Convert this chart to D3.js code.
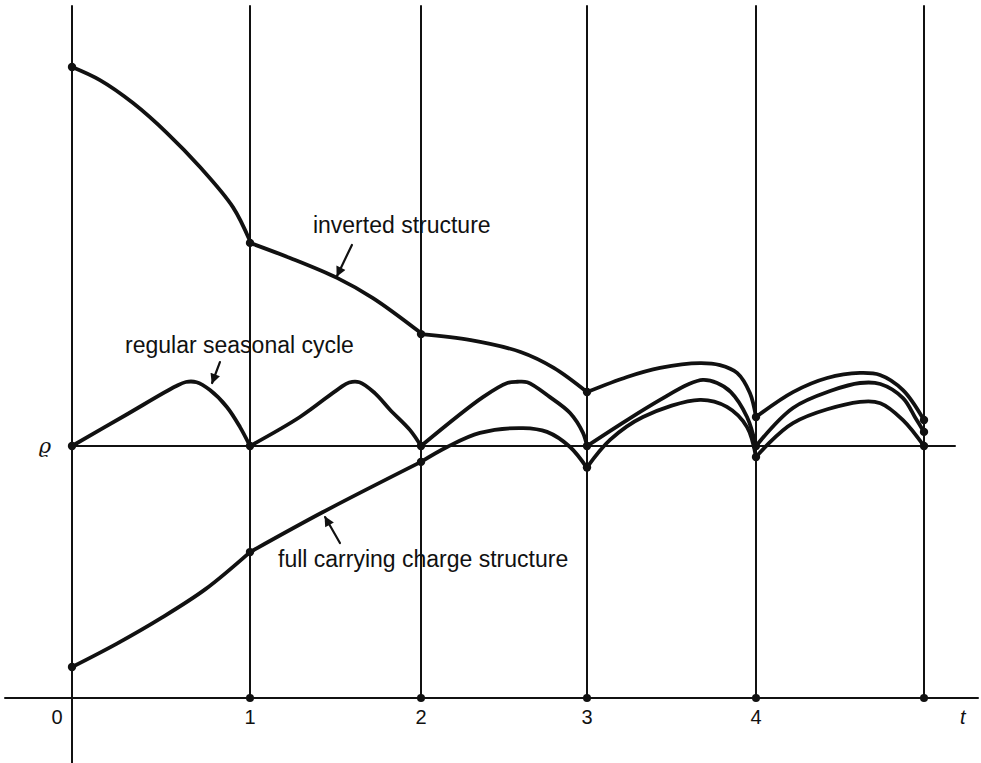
<!DOCTYPE html>
<html>
<head>
<meta charset="utf-8">
<script src="https://cdn.jsdelivr.net/npm/d3@7"></script>
<style>
  body { margin: 0; background: #fff; }
  svg { display: block; font-family: "Liberation Sans", Arial, sans-serif; }
</style>
</head>
<body>
<div id="chart"></div>
<script>
// years on the t axis, and the labels printed under them
const years = [0, 1, 2, 3, 4, 5];
const tickLabels = ["0", "1", "2", "3", "4"];

// spread (t, value), one array per year segment
const inverted = [
  [[0, 150.4], [0.157, 145.2], [0.343, 136.1], [0.534, 124.2], [0.719, 110.7], [0.904, 94.8], [1, 81.3]],
  [[1, 80.6], [1.234, 74.6], [1.509, 66.7], [1.719, 58.7], [2, 44.8]],
  [[2, 44.4], [2.3, 42], [2.6, 37.3], [2.8, 31], [3, 21.4]],
  [[3, 21.4], [3.237, 27.4], [3.432, 31], [3.669, 32.9], [3.787, 32.1], [3.888, 29], [3.964, 21], [4, 11.5]],
  [[4, 11.5], [4.22, 21.4], [4.423, 27], [4.619, 29], [4.738, 28.2], [4.875, 22.2], [5, 10.3]],
];

const seasonal = [
  [[0, 0], [0.3, 12.2], [0.58, 23.6], [0.64, 25.4], [0.7, 25.3], [0.775, 22.2], [0.87, 15.5], [0.944, 7.5], [1, 0]],
  [[1, 0], [1.292, 11.5], [1.52, 22.8], [1.58, 25.2], [1.64, 25.3], [1.73, 21], [1.82, 14.3], [1.936, 6.3], [2, 0]],
  [[2, 0], [2.373, 19.4], [2.52, 25], [2.58, 25.5], [2.64, 25.3], [2.777, 19.4], [2.898, 13.1], [2.976, 5.2], [3, 0]],
  [[3, 0], [3.237, 10.3], [3.432, 18.3], [3.6, 24.5], [3.686, 26.2], [3.77, 25], [3.85, 21.5], [3.947, 11.5], [4, 0]],
  [[4, 0], [4.22, 15.1], [4.45, 22], [4.619, 25], [4.74, 24.6], [4.875, 19], [4.95, 11], [5, 5.6]],
];

const fullCarry = [
  [[0, -87.7], [0.25, -78.5], [0.5, -68.3], [0.75, -56.8], [1, -42.1]],
  [[1, -42.1], [1.427, -26.2], [2, -6.3]],
  [[2, -6.3], [2.157, -0.4], [2.355, 5.2], [2.614, 7.1], [2.759, 5.6], [2.898, -0.4], [3, -8.7]],
  [[3, -8.5], [3.136, 2.4], [3.331, 11.5], [3.669, 18.3], [3.828, 15.5], [3.947, 7.5], [4, -4.4]],
  [[4, -4.4], [4.22, 9.1], [4.619, 17.5], [4.74, 17], [4.875, 10.3], [5, 0]],
];

// label text, where it starts, and the arrow (from, tip) in data units
const notes = [
  { text: "inverted structure", at: [1.368, 84.5], from: [1.596, 79.8], tip: [1.509, 67.5] },
  { text: "regular seasonal cycle", at: [0.298, 36.9], from: [0.831, 33.3], tip: [0.787, 25] },
  { text: "full carrying charge structure", at: [1.164, -48], from: [1.526, -38.5], tip: [1.439, -28.2] },
];

const width = 981;
const height = 763;

// the drawn year lines are not quite evenly spaced
const x = d3.scaleLinear().domain(years).range([72, 250, 421, 587, 756, 924]);
const y = d3.scaleLinear().domain([-100, 0]).range([698, 446]);

const svg = d3.select("#chart").append("svg")
  .attr("width", width)
  .attr("height", height)
  .attr("stroke-linecap", "round")
  .attr("stroke-linejoin", "round");

svg.append("defs").append("marker")
  .attr("id", "head")
  .attr("viewBox", "0 0 10 10")
  .attr("refX", 9)
  .attr("refY", 5)
  .attr("markerUnits", "userSpaceOnUse")
  .attr("markerWidth", 14)
  .attr("markerHeight", 10)
  .attr("orient", "auto")
  .append("path")
  .attr("d", "M0,0L10,5L0,10z")
  .attr("fill", "#111");

// year lines
svg.append("g")
  .selectAll("line")
  .data(years)
  .join("line")
  .attr("x1", (d) => x(d))
  .attr("x2", (d) => x(d))
  .attr("y1", 6)
  .attr("y2", (d) => (d === 0 ? height : y(-100)))
  .attr("stroke", "#111")
  .attr("stroke-width", 2);

// bottom axis and the zero (rho) line
svg.append("line")
  .attr("x1", 5).attr("x2", 978)
  .attr("y1", y(-100)).attr("y2", y(-100))
  .attr("stroke", "#111").attr("stroke-width", 2);

svg.append("line")
  .attr("x1", x(0)).attr("x2", 955)
  .attr("y1", y(0)).attr("y2", y(0))
  .attr("stroke", "#111").attr("stroke-width", 2);

// dots where the year lines meet the axis
svg.append("g")
  .selectAll("circle")
  .data(years.slice(1))
  .join("circle")
  .attr("cx", (d) => x(d))
  .attr("cy", y(-100))
  .attr("r", 4)
  .attr("fill", "#111");

// tick labels
svg.append("g")
  .attr("font-size", 20)
  .attr("text-anchor", "middle")
  .attr("fill", "#111")
  .selectAll("text")
  .data(tickLabels)
  .join("text")
  .attr("x", (d, i) => (i === 0 ? x(0) - 15 : x(i)))
  .attr("y", y(-100) + 26)
  .text((d) => d);

svg.append("text")
  .attr("x", width - 21)
  .attr("y", y(-100) + 26)
  .attr("font-size", 20)
  .attr("font-style", "italic")
  .attr("fill", "#111")
  .text("t");

svg.append("text")
  .attr("x", x(0) - 27)
  .attr("y", y(0) + 7)
  .attr("font-size", 21)
  .attr("font-style", "italic")
  .attr("font-family", "'DejaVu Serif', serif")
  .attr("text-anchor", "middle")
  .attr("fill", "#111")
  .text("ϱ");

// the three spread curves, one path per year
const line = d3.line()
  .x((d) => x(d[0]))
  .y((d) => y(d[1]))
  .curve(d3.curveCatmullRom.alpha(0.5));

[inverted, seasonal, fullCarry].forEach((series) => {
  const g = svg.append("g");
  g.selectAll("path")
    .data(series)
    .join("path")
    .attr("fill", "none")
    .attr("stroke", "#111")
    .attr("stroke-width", 3.8)
    .attr("d", line);

  const ends = series.map((s) => s[0]).concat([series[series.length - 1].slice(-1)[0]]);
  g.selectAll("circle")
    .data(ends)
    .join("circle")
    .attr("cx", (d) => x(d[0]))
    .attr("cy", (d) => y(d[1]))
    .attr("r", 4.2)
    .attr("fill", "#111");
});

// labels and arrows
const noteG = svg.append("g").attr("fill", "#111").attr("font-size", 23);
noteG.selectAll("text")
  .data(notes)
  .join("text")
  .attr("x", (d) => x(d.at[0]))
  .attr("y", (d) => y(d.at[1]))
  .text((d) => d.text);

noteG.selectAll("line")
  .data(notes)
  .join("line")
  .attr("x1", (d) => x(d.from[0]))
  .attr("y1", (d) => y(d.from[1]))
  .attr("x2", (d) => x(d.tip[0]))
  .attr("y2", (d) => y(d.tip[1]))
  .attr("stroke", "#111")
  .attr("stroke-width", 2.2)
  .attr("marker-end", "url(#head)");
</script>
</body>
</html>
